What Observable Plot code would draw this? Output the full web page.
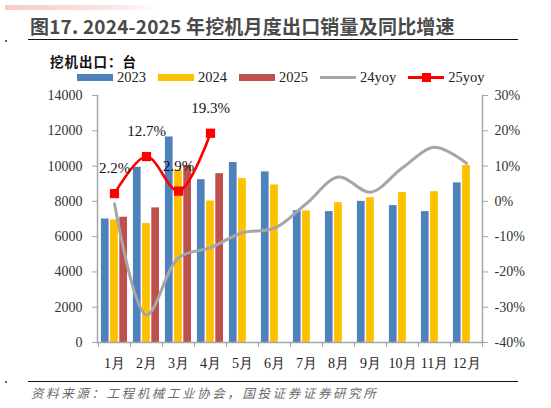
<!DOCTYPE html>
<html><head><meta charset="utf-8">
<script src="https://cdn.jsdelivr.net/npm/d3@7"></script>
<script src="https://cdn.jsdelivr.net/npm/@observablehq/plot@0.6"></script>
<style>
body{margin:0;background:#fff;}
#wrap{position:relative;width:551px;height:408px;overflow:hidden;background:#fff;font-family:"Noto Sans CJK SC","Noto Sans",sans-serif;}
#deco{position:absolute;left:5px;top:5px;width:155px;height:5px;background:linear-gradient(to right,#f6caca,#fbe6e6 70%,#fff);}
#title{position:absolute;left:30px;top:12px;font-size:19px;line-height:28px;font-weight:bold;color:#4a4a4a;white-space:nowrap;letter-spacing:0.2px;}
.rule{position:absolute;left:28px;width:490px;height:0;border-top:1.6px solid #111;}
#sub{position:absolute;left:50px;top:53px;font-size:13.5px;line-height:16px;font-weight:bold;color:#111;letter-spacing:1px;}
#legend{position:absolute;left:77px;top:70px;height:15px;display:flex;align-items:center;gap:12px;font-family:"Liberation Serif",serif;font-size:14.5px;line-height:15px;color:#222;}
.li{display:flex;align-items:center;gap:4px;}
.sw{width:36px;height:7px;}
.ln{width:36px;height:3px;position:relative;}
.mk{position:absolute;left:14px;top:-3px;width:9px;height:9px;background:#ff0000;}
#chart{position:absolute;left:0;top:80px;}
#chart svg text{font-family:"Liberation Serif",serif !important;}
#caption{position:absolute;left:31px;top:384px;font-size:12.5px;line-height:18px;font-style:italic;color:#6a6a6a;letter-spacing:2.6px;white-space:nowrap;}
.dot{position:absolute;left:5px;width:2px;height:2px;background:#666;}
</style></head><body>
<div id="wrap">
<div id="deco"></div>
<div class="dot" style="top:40px"></div>
<div class="dot" style="top:381px"></div>
<div id="title">图17. 2024-2025 年挖机月度出口销量及同比增速</div>
<div class="rule" style="top:39px"></div>
<div id="sub">挖机出口：台</div>
<div id="legend"></div>
<div id="chart"></div>
<div class="rule" style="top:381px"></div>
<div id="caption">资料来源：工程机械工业协会，国投证券证券研究所</div>
</div>
<script>
const months = ["1月","2月","3月","4月","5月","6月","7月","8月","9月","10月","11月","12月"];
const sales2023 = [7000, 9930, 11650, 9230, 10200, 9670, 7470, 7420, 8000, 7760, 7420, 9050];
const sales2024 = [6950, 6750, 9780, 8020, 9290, 8930, 7460, 7930, 8210, 8500, 8550, 10030];
const sales2025 = [7100, 7630, 10030, 9570];
const yoy24 = [-0.7, -32.2, -16.0, -13.1, -8.9, -7.6, -0.6, 6.9, 2.6, 9.5, 15.3, 10.8];
const yoy25 = [2.2, 12.7, 2.9, 19.3];
const leftTicks = [0, 2000, 4000, 6000, 8000, 10000, 12000, 14000];
const rightTicks = [-40, -30, -20, -10, 0, 10, 20, 30];

const colors = {"2023": "#4f81bd", "2024": "#ffc000", "2025": "#c0504d", "24yoy": "#a6a6a6", "25yoy": "#ff0000"};

// legend
const legend = document.getElementById("legend");
for (const k of ["2023","2024","2025","24yoy","25yoy"]) {
  const it = document.createElement("div"); it.className = "li";
  const sw = document.createElement("div");
  if (k.endsWith("yoy")) {
    sw.className = "ln"; sw.style.background = colors[k];
    if (k === "25yoy") { const m = document.createElement("div"); m.className = "mk"; sw.appendChild(m); }
  } else { sw.className = "sw"; sw.style.background = colors[k]; }
  const t = document.createElement("span"); t.textContent = k;
  it.appendChild(sw); it.appendChild(t); legend.appendChild(it);
}

// mapping right axis (%) onto left axis units
const rMin = -40, rMax = 30, lMax = 14000;
const toLeft = v => (v - rMin) / (rMax - rMin) * lMax;

const W = 551, H = 290, ML = 97, MR = 69, MT = 15, MB = 28;
const bw = (W - ML - MR) / months.length;
const barW = 7.8, step = 9.2, off0 = 2.9;

const rows = (arr, yr) => arr.map((v, i) => ({month: months[i], value: v, year: yr}));
const barMark = (arr, yr, idx) => Plot.barY(rows(arr, yr), {
  x: "month", y: "value", fill: colors[yr],
  insetLeft: off0 + idx * step, insetRight: bw - (off0 + idx * step + barW)
});
const line24 = yoy24.map((v, i) => ({month: months[i], v}));
const line25 = yoy25.map((v, i) => ({month: months[i], v}));
const serif = "'Liberation Serif', serif";
const axisCol = "#a6a6a6";

const chart = Plot.plot({
  width: W, height: H,
  marginLeft: ML, marginRight: MR, marginTop: MT, marginBottom: MB,
  style: {fontFamily: serif, background: "transparent", overflow: "visible"},
  x: {type: "band", domain: months, padding: 0},
  y: {domain: [0, lMax]},
  marks: [
    barMark(sales2023, "2023", 0),
    barMark(sales2024, "2024", 1),
    barMark(sales2025, "2025", 2),
    Plot.frame({anchor: "left", stroke: axisCol, strokeWidth: 1.5}),
    Plot.frame({anchor: "right", stroke: axisCol, strokeWidth: 1.5}),
    Plot.frame({anchor: "bottom", stroke: axisCol, strokeWidth: 1.5}),
    Plot.axisY(leftTicks, {anchor: "left", tickSize: 5, tickPadding: 10, stroke: axisCol, fill: "#333", fontSize: 14, fontFamily: serif, label: null, tickFormat: d => String(d)}),
    Plot.axisY(rightTicks.map(toLeft), {anchor: "right", tickSize: 5, tickPadding: 7, stroke: axisCol, fill: "#333", fontSize: 14, fontFamily: serif, label: null, tickFormat: d => Math.round(d / lMax * (rMax - rMin) + rMin) + "%"}),
    Plot.axisX(months, {anchor: "bottom", tickSize: 5, dx: -bw / 2, text: null, stroke: axisCol, label: null}),
    Plot.axisX([months[months.length - 1]], {anchor: "bottom", tickSize: 5, dx: bw / 2, text: null, stroke: axisCol, label: null}),
    Plot.axisX(months, {anchor: "bottom", tickSize: 0, tickPadding: 16, fill: "#222", fontSize: 14, fontFamily: serif, label: null}),
    Plot.line(line24, {x: "month", y: d => toLeft(d.v), stroke: colors["24yoy"], strokeWidth: 3, curve: "catmull-rom"}),
    Plot.line(line25, {x: "month", y: d => toLeft(d.v), stroke: colors["25yoy"], strokeWidth: 2.6, curve: "catmull-rom"}),
    Plot.dot(line25, {x: "month", y: d => toLeft(d.v), symbol: "square", r: 5.2, fill: colors["25yoy"], stroke: null}),
    Plot.text(line25, {x: "month", y: d => toLeft(d.v), text: d => d.v.toFixed(1) + "%", dy: -25, fontSize: 15, fontFamily: serif, fill: "#111"})
  ]
});
document.getElementById("chart").appendChild(chart);
</script>
</body></html>
